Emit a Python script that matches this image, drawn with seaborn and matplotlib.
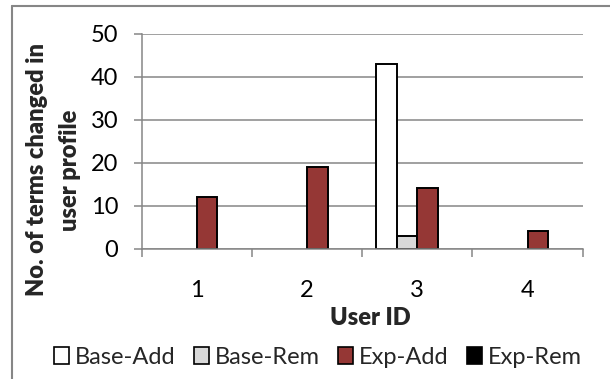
import matplotlib
matplotlib.use("Agg")
import matplotlib.pyplot as plt
from matplotlib.lines import Line2D
import seaborn as sns
import pandas as pd

# Data: terms changed in each user profile
users = ["1", "2", "3", "4"]
series = ["Base-Add", "Base-Rem", "Exp-Add", "Exp-Rem"]
base_add = [0, 0, 43, 0]
base_rem = [0, 0, 3, 0]
exp_add = [12, 19, 14, 4]
exp_rem = [0, 0, 0, 0]
y_ticks = [0, 10, 20, 30, 40, 50]
colors = ["#FFFFFF", "#D9D9D9", "#953735", "#000000"]

rows = []
for name, vals in zip(series, [base_add, base_rem, exp_add, exp_rem]):
    for u, v in zip(users, vals):
        rows.append({"User ID": u, "Series": name, "Value": v})
df = pd.DataFrame(rows)

sns.set_theme(style="white")
plt.rcParams["font.family"] = ["Lato", "DejaVu Sans"]

GRAY = "#868686"
FS = 17

fig = plt.figure(figsize=(6.10, 3.79), dpi=100)
ax = fig.add_axes([0.2323, 0.3443, 0.7229, 0.566])

sns.barplot(data=df, x="User ID", y="Value", hue="Series",
            order=users, hue_order=series, palette=colors,
            edgecolor="black", linewidth=1.4, width=0.75,
            saturation=1, errorbar=None, ax=ax)

# Zero-height bars leave no visible mark
for p in ax.patches:
    if p.get_height() == 0:
        p.set_linewidth(0)

ax.set_ylim(0, 50)
ax.set_xlim(-0.5, 3.5)
ax.set_yticks(y_ticks)
ax.set_yticklabels([str(t) for t in y_ticks], fontsize=FS, color="#000000")
ax.set_xticks(range(len(users)))
ax.set_xticklabels(users, fontsize=FS, color="#000000")
ax.set_xticks([i - 0.5 for i in range(len(users) + 1)], minor=True)

ax.yaxis.grid(True, color=GRAY, linewidth=1.1)
ax.set_axisbelow(True)
for s in ["top", "right"]:
    ax.spines[s].set_visible(False)
for s in ["left", "bottom"]:
    ax.spines[s].set_color(GRAY)
    ax.spines[s].set_linewidth(1.1)

ax.tick_params(axis="y", which="major", left=True, length=6, width=1.1,
               color=GRAY, pad=11)
ax.tick_params(axis="x", which="major", bottom=True, length=0, pad=23)
ax.tick_params(axis="x", which="minor", bottom=True, length=6, width=1.1,
               color=GRAY)

ax.set_ylabel("No. of terms changed in\nuser profile", fontsize=FS,
              fontweight="heavy", linespacing=1.6)
ax.yaxis.label.set_va("center")
ax.yaxis.set_label_coords(-0.2000, 0.366)
ax.set_xlabel("User ID", fontsize=FS, fontweight="heavy")
ax.xaxis.label.set_va("center")
ax.xaxis.set_label_coords(0.5177, -0.324)

handles, labels = ax.get_legend_handles_labels()
ax.get_legend().remove()
for h in handles:
    h.set_edgecolor("black")
    h.set_linewidth(1.2)
fig.legend(handles, labels, loc="center", bbox_to_anchor=(0.5213, 0.058),
           ncol=4, frameon=False, fontsize=FS, handlelength=0.62,
           handleheight=0.7, handletextpad=0.25, columnspacing=0.8)

# Chart area border
fig.add_artist(Line2D([0.0202, 0.0202], [0.0, 0.985], transform=fig.transFigure,
                      color=GRAY, linewidth=1.5))
fig.add_artist(Line2D([0.0202, 1.0], [0.985, 0.985], transform=fig.transFigure,
                      color=GRAY, linewidth=1.5))

fig.savefig("out.png", dpi=100)
